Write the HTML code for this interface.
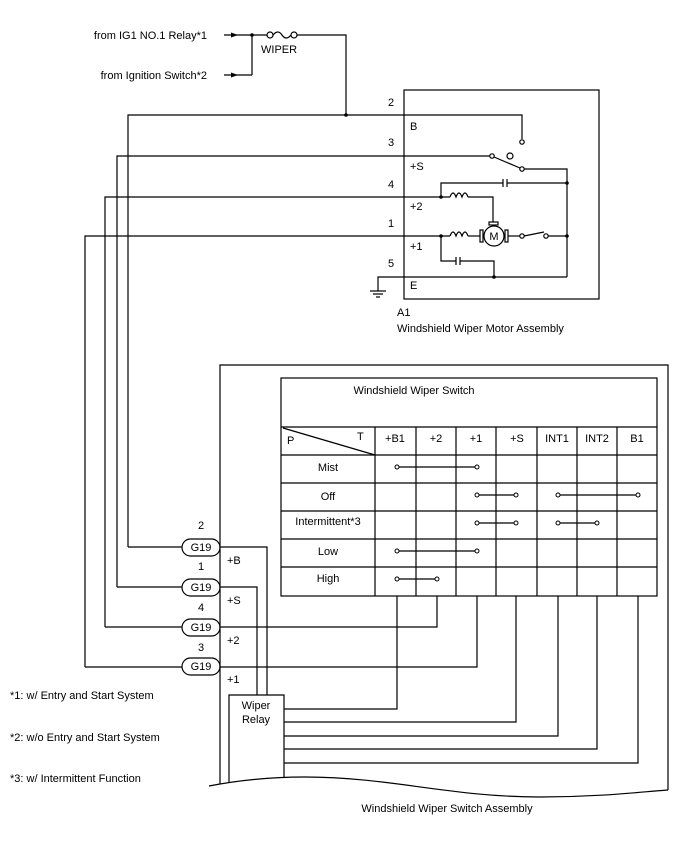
<!DOCTYPE html>
<html><head><meta charset="utf-8"><style>
html,body{margin:0;padding:0;background:#fff;}
svg{display:block;}
text{font-family:"Liberation Sans",Arial,sans-serif;font-size:11px;fill:#000;}
</style></head><body>
<svg width="688" height="852" viewBox="0 0 688 852" xmlns="http://www.w3.org/2000/svg">
<g fill="none" stroke="#000" stroke-width="1.2">
<line x1="224" y1="35" x2="267" y2="35"/>
<line x1="224" y1="75" x2="252" y2="75"/>
<line x1="252" y1="35" x2="252" y2="75"/>
<circle cx="270" cy="35" r="3" fill="#fff"/>
<path d="M273 35 Q278 29 282 35 Q286 41 291 35"/>
<circle cx="294" cy="35" r="3" fill="#fff"/>
<polyline points="297,35 346,35 346,115"/>
<rect x="404" y="90" width="195" height="209"/>
<polyline points="128,547 128,115 522,115 522,139"/>
<circle cx="522" cy="142" r="2.2" fill="#fff"/>
<polyline points="117,587 117,156 490,156"/>
<circle cx="492" cy="156" r="2.2" fill="#fff"/>
<line x1="494" y1="157" x2="520" y2="168"/>
<circle cx="522" cy="169" r="2.2" fill="#fff"/>
<circle cx="510" cy="156" r="3"/>
<polyline points="524,169 567,169 567,277"/>
<polyline points="105,627 105,197 450,197"/>
<path d="M450 197 q3 -8 6 0 q3 -8 6 0 q3 -8 6 0"/>
<polyline points="468,197 493,197 493,222"/>
<polyline points="441,197 441,183 503,183"/>
<line x1="503" y1="179" x2="503" y2="187"/><line x1="507" y1="179" x2="507" y2="187"/>
<line x1="507" y1="183" x2="567" y2="183"/>
<polyline points="85,667 85,236 450,236"/>
<path d="M450 236 q3 -8 6 0 q3 -8 6 0 q3 -8 6 0"/>
<line x1="468" y1="236" x2="480" y2="236"/>
<rect x="480" y="230" width="3" height="12"/>
<rect x="505" y="230" width="3" height="12"/>
<rect x="489" y="222" width="9" height="3"/>
<circle cx="494" cy="236" r="10"/>
<line x1="508" y1="236" x2="520" y2="236"/>
<circle cx="522" cy="236" r="2.2" fill="#fff"/>
<line x1="524" y1="236" x2="544" y2="232"/>
<circle cx="546" cy="236" r="2.2" fill="#fff"/>
<line x1="548" y1="236" x2="567" y2="236"/>
<polyline points="441,236 441,261 456,261"/>
<line x1="456" y1="257" x2="456" y2="265"/><line x1="460" y1="257" x2="460" y2="265"/>
<polyline points="460,261 494,261 494,277"/>
<polyline points="378,291 378,277 567,277"/>
<line x1="370" y1="291" x2="386" y2="291"/>
<line x1="373" y1="294" x2="383" y2="294"/>
<line x1="376" y1="297" x2="380" y2="297"/>
<polyline points="220,784 220,365 668,365 668,790"/>
<rect x="281" y="378" width="376" height="218"/>
<line x1="281" y1="427" x2="657" y2="427"/>
<line x1="281" y1="455" x2="657" y2="455"/>
<line x1="281" y1="483" x2="657" y2="483"/>
<line x1="281" y1="511" x2="657" y2="511"/>
<line x1="281" y1="539" x2="657" y2="539"/>
<line x1="281" y1="567" x2="657" y2="567"/>
<line x1="375" y1="427" x2="375" y2="596"/>
<line x1="416" y1="427" x2="416" y2="596"/>
<line x1="456" y1="427" x2="456" y2="596"/>
<line x1="496" y1="427" x2="496" y2="596"/>
<line x1="537" y1="427" x2="537" y2="596"/>
<line x1="577" y1="427" x2="577" y2="596"/>
<line x1="617" y1="427" x2="617" y2="596"/>
<line x1="283" y1="428" x2="375" y2="455"/>
<line x1="397" y1="467" x2="477" y2="467"/>
<line x1="477" y1="495" x2="516" y2="495"/>
<line x1="558" y1="495" x2="638" y2="495"/>
<line x1="477" y1="523" x2="516" y2="523"/>
<line x1="558" y1="523" x2="597" y2="523"/>
<line x1="397" y1="551" x2="477" y2="551"/>
<line x1="397" y1="579" x2="437" y2="579"/>
<rect x="182" y="539" width="38" height="17" rx="8.5"/>
<rect x="182" y="579" width="38" height="17" rx="8.5"/>
<rect x="182" y="619" width="38" height="17" rx="8.5"/>
<rect x="182" y="658" width="38" height="17" rx="8.5"/>
<line x1="85" y1="667" x2="182" y2="667"/>
<line x1="105" y1="627" x2="182" y2="627"/>
<line x1="117" y1="587" x2="182" y2="587"/>
<line x1="128" y1="547" x2="182" y2="547"/>
<polyline points="220,547 267,547 267,695"/>
<polyline points="220,587 257,587 257,695"/>
<polyline points="220,627 437,627 437,596"/>
<polyline points="220,667 477,667 477,596"/>
<polyline points="229,782 229,695 284,695 284,778"/>
<polyline points="284,709 397,709 397,596"/>
<polyline points="284,722 516,722 516,596"/>
<polyline points="284,736 558,736 558,596"/>
<polyline points="284,749 597,749 597,596"/>
<polyline points="284,763 638,763 638,596"/>
<path d="M209 786 C240 780 270 777 305 777 C390 777 450 797 540 797 C600 797 640 792 668 790"/>
</g>
<g fill="#000">
<polygon points="238,35 231,32.5 231,37.5"/>
<polygon points="238,75 231,72.5 231,77.5"/>
<circle cx="252" cy="35" r="1.8"/>
<circle cx="346" cy="115" r="1.8"/>
<circle cx="441" cy="197" r="1.8"/>
<circle cx="441" cy="236" r="1.8"/>
<circle cx="567" cy="183" r="1.8"/>
<circle cx="567" cy="236" r="1.8"/>
<circle cx="494" cy="277" r="1.8"/>
</g>
<g fill="#fff" stroke="#000" stroke-width="1">
<circle cx="397" cy="467" r="2"/><circle cx="477" cy="467" r="2"/>
<circle cx="477" cy="495" r="2"/><circle cx="516" cy="495" r="2"/>
<circle cx="558" cy="495" r="2"/><circle cx="638" cy="495" r="2"/>
<circle cx="477" cy="523" r="2"/><circle cx="516" cy="523" r="2"/>
<circle cx="558" cy="523" r="2"/><circle cx="597" cy="523" r="2"/>
<circle cx="397" cy="551" r="2"/><circle cx="477" cy="551" r="2"/>
<circle cx="397" cy="579" r="2"/><circle cx="437" cy="579" r="2"/>
</g>
<text x="207" y="39" text-anchor="end">from IG1 NO.1 Relay*1</text>
<text x="207" y="79" text-anchor="end">from Ignition Switch*2</text>
<text x="261" y="53">WIPER</text>
<text x="388" y="106">2</text><text x="410" y="130">B</text>
<text x="388" y="146">3</text><text x="410" y="170">+S</text>
<text x="388" y="188">4</text><text x="410" y="210">+2</text>
<text x="388" y="227">1</text><text x="410" y="250">+1</text>
<text x="388" y="267">5</text><text x="410" y="289">E</text>
<text x="494" y="240" text-anchor="middle" font-size="12">M</text>
<text x="397" y="316">A1</text>
<text x="397" y="332">Windshield Wiper Motor Assembly</text>
<text x="414" y="394" text-anchor="middle">Windshield Wiper Switch</text>
<text x="287" y="444">P</text><text x="357" y="440">T</text>
<text x="395" y="442" text-anchor="middle">+B1</text>
<text x="436" y="442" text-anchor="middle">+2</text>
<text x="476" y="442" text-anchor="middle">+1</text>
<text x="517" y="442" text-anchor="middle">+S</text>
<text x="557" y="442" text-anchor="middle">INT1</text>
<text x="597" y="442" text-anchor="middle">INT2</text>
<text x="637" y="442" text-anchor="middle">B1</text>
<text x="328" y="471" text-anchor="middle">Mist</text>
<text x="328" y="500" text-anchor="middle">Off</text>
<text x="328" y="525" text-anchor="middle">Intermittent*3</text>
<text x="328" y="555" text-anchor="middle">Low</text>
<text x="328" y="582" text-anchor="middle">High</text>
<text x="201" y="551" text-anchor="middle">G19</text>
<text x="201" y="591" text-anchor="middle">G19</text>
<text x="201" y="631" text-anchor="middle">G19</text>
<text x="201" y="670" text-anchor="middle">G19</text>
<text x="201" y="529" text-anchor="middle">2</text>
<text x="201" y="570" text-anchor="middle">1</text>
<text x="201" y="611" text-anchor="middle">4</text>
<text x="201" y="651" text-anchor="middle">3</text>
<text x="227" y="564">+B</text>
<text x="227" y="604">+S</text>
<text x="227" y="644">+2</text>
<text x="227" y="683">+1</text>
<text x="256" y="709" text-anchor="middle">Wiper</text>
<text x="256" y="723" text-anchor="middle">Relay</text>
<text x="10" y="699">*1: w/ Entry and Start System</text>
<text x="10" y="741">*2: w/o Entry and Start System</text>
<text x="10" y="782">*3: w/ Intermittent Function</text>
<text x="447" y="812" text-anchor="middle">Windshield Wiper Switch Assembly</text>
</svg>
</body></html>
